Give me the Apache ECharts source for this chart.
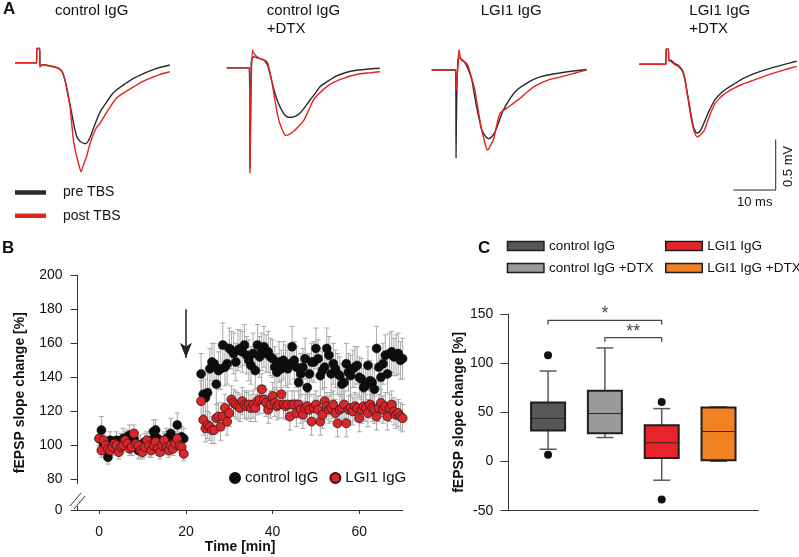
<!DOCTYPE html>
<html><head><meta charset="utf-8">
<script src="https://cdn.jsdelivr.net/npm/echarts@6/dist/echarts.min.js"></script>
<style>html,body{margin:0;padding:0;background:#fff}#c{width:799px;height:557px}</style>
</head><body><div id="c"></div><script>
const FONT = '"Liberation Sans", Arial, sans-serif';

// ---------- Panel A: example fEPSP traces, [time (ms), voltage (mV)] ----------
const trace1Pre = [[0,0],[5.1,0],[5.15,0.14],[5.85,0.14],[5.9,-0.04],[6.5,-0.02],[8,-0.03],[10,-0.05],[11,-0.08],[11.6,-0.14],[12.2,-0.24],[12.8,-0.37],[13.4,-0.5],[14,-0.63],[14.6,-0.73],[15.2,-0.77],[15.8,-0.79],[16.4,-0.8],[16.8,-0.8],[17.4,-0.77],[18.1,-0.7],[19,-0.6],[20.1,-0.49],[21.5,-0.4],[23,-0.31],[24,-0.27],[26,-0.21],[28,-0.155],[30,-0.115],[31.9,-0.08],[34,-0.05],[36.6,-0.023]];
const trace1Post = [[0,0],[5.1,0],[5.15,0.14],[5.85,0.14],[5.9,-0.04],[6.5,-0.02],[8,-0.03],[10,-0.05],[11,-0.08],[11.8,-0.17],[12.4,-0.3],[13,-0.43],[13.4,-0.6],[13.8,-0.76],[14.2,-0.86],[14.6,-0.93],[15.1,-1.01],[15.6,-1.08],[16.2,-1.01],[16.9,-0.93],[17.6,-0.82],[18.5,-0.71],[19.3,-0.64],[20.1,-0.6],[22,-0.47],[24,-0.35],[26,-0.29],[28,-0.24],[30,-0.19],[31.9,-0.155],[34,-0.12],[36.6,-0.09]];
const trace2Pre = [[0,0],[5.35,0],[5.5,-1.0],[5.8,0.05],[6.3,0.11],[7.1,0.1],[8.65,0.08],[9.3,0.05],[9.8,0.01],[10.4,-0.09],[11,-0.19],[11.6,-0.28],[12.2,-0.35],[13,-0.42],[13.8,-0.47],[14.6,-0.49],[15.4,-0.49],[16.3,-0.48],[17.3,-0.45],[18.5,-0.39],[19.7,-0.32],[21,-0.25],[22,-0.19],[24,-0.13],[26,-0.08],[28,-0.05],[29.9,-0.03],[33,-0.015],[36.2,-0.005]];
const trace2Post = [[0,0],[5.35,0],[5.5,-1.04],[5.75,-0.3],[6.05,0.175],[6.3,0.15],[7.1,0.11],[7.9,0.09],[9.5,0.06],[10.1,-0.02],[10.6,-0.12],[11.2,-0.27],[11.8,-0.42],[12.4,-0.53],[13,-0.6],[13.5,-0.65],[14,-0.67],[14.8,-0.66],[15.8,-0.63],[17,-0.58],[18.1,-0.53],[19.3,-0.43],[20.5,-0.32],[22,-0.25],[23.6,-0.19],[25.5,-0.14],[27.6,-0.105],[29.5,-0.08],[31.5,-0.06],[34,-0.05],[36.2,-0.04]];
const trace3Pre = [[0,0],[5.7,0],[5.75,-0.87],[5.9,-0.3],[6.2,0.1],[6.5,0.12],[7.2,0.1],[7.9,0.07],[8.7,0],[9.5,-0.1],[10,-0.22],[10.6,-0.36],[11.2,-0.48],[11.8,-0.59],[12.6,-0.65],[13.4,-0.68],[14.2,-0.66],[15,-0.61],[15.9,-0.51],[16.9,-0.4],[18.4,-0.29],[20.1,-0.2],[22.5,-0.13],[24.8,-0.08],[27.5,-0.05],[30.3,-0.03],[33.5,-0.01],[36.6,0.005]];
const trace3Post = [[0,0],[5.7,0],[5.8,-0.2],[6.2,0.05],[6.45,0.2],[6.7,0.14],[7,0.1],[7.8,0.08],[8.5,0.05],[9.4,-0.07],[10.2,-0.2],[10.8,-0.35],[11.4,-0.5],[11.9,-0.61],[12.4,-0.69],[12.8,-0.76],[13.1,-0.79],[13.5,-0.78],[14,-0.74],[14.6,-0.69],[15.3,-0.56],[16.1,-0.43],[16.9,-0.4],[17.7,-0.38],[19.3,-0.33],[20.9,-0.28],[22.8,-0.21],[24.8,-0.15],[27.5,-0.1],[30.3,-0.07],[33.5,-0.035],[36.6,0]];
const trace4Pre = [[0,0],[6.3,0],[6.32,0.15],[6.9,0.15],[6.95,0.04],[7.4,0.04],[8.3,0.01],[9.2,-0.01],[10.3,-0.07],[10.8,-0.15],[11.2,-0.25],[11.7,-0.37],[12.2,-0.49],[12.8,-0.62],[13.2,-0.66],[13.6,-0.68],[14.2,-0.67],[14.8,-0.63],[15.5,-0.56],[16.3,-0.48],[17.1,-0.41],[17.9,-0.35],[19.2,-0.29],[20.7,-0.24],[22.6,-0.19],[24.6,-0.14],[27.3,-0.09],[30.1,-0.05],[33.5,-0.01],[37.2,0.03]];
const trace4Post = [[0,0],[6.3,0],[6.32,0.15],[6.9,0.15],[6.95,0.04],[7.4,0.03],[8.3,0],[9.2,-0.02],[10.3,-0.08],[10.8,-0.16],[11.2,-0.26],[11.7,-0.39],[12.2,-0.52],[12.8,-0.64],[13.3,-0.7],[13.8,-0.72],[14.4,-0.7],[15.3,-0.66],[16,-0.58],[16.7,-0.5],[17.3,-0.44],[17.9,-0.39],[18.9,-0.34],[19.9,-0.3],[21,-0.27],[22.2,-0.24],[24.2,-0.2],[26.2,-0.17],[28.2,-0.14],[30.1,-0.11],[33.5,-0.065],[37.2,-0.02]];
const traceTitles = ['control IgG', 'control IgG\n+DTX', 'LGI1 IgG', 'LGI1 IgG\n+DTX'];
const scaleBar = [[22.25,-1.245],[32.25,-1.245],[32.25,-0.745]]; // 10 ms x 0.5 mV

// ---------- Panel B: fEPSP slope change [%] over time ----------
const baseStartMin = 0, postStartMin = 23.5, sampleStepMin = 0.5;
const ctrlBase = [104,109,101,98,93,103,100,101,103,100,102,104,102,105,106,99,104,101,97,100,98,102,101,98,103,108,109,104,101,99,102,104,100,107,103,102,112,102,105,104];
const ctrlBaseSem = [5,8,5,4,4,5,5,4,5,5,5,6,5,4,6,5,5,4,5,6,5,5,4,5,6,7,6,5,4,5,5,6,5,9,5,5,7,5,6,6];
const lgiBase = [104,97,103,100,98,97,99,101,100,96,99,100,103,101,98,99,107,101,100,97,96,99,103,100,97,100,102,98,96,100,103,99,97,100,98,101,104,100,99,95];
const lgiBaseSem = [4,4,5,4,4,4,5,4,5,4,4,4,5,4,4,5,5,4,4,4,4,4,5,4,4,4,5,4,4,4,5,4,4,5,4,4,4,4,5,4];
const ctrlPost = [142,130,128,131,145,149,148,136,144,145,159,146,148,157,156,154,149,156,157,155,159,153,150,147,154,144,159,152,155,158,154,155,152,151,146,143,149,145,150,147,145,148,158,150,146,137,142,146,151,134,142,149,149,157,151,141,144,146,157,153,142,148,145,142,141,136,137,148,143,141,145,146,147,140,139,134,135,147,138,137,133,157,146,140,148,153,142,154,155,152,153,154,150,151];
const ctrlPostSem = [12,12,11,11,12,11,12,12,11,12,13,11,12,12,11,12,11,12,11,12,12,11,12,11,12,11,12,12,11,12,11,12,11,11,12,11,12,11,11,12,11,12,12,11,12,11,12,11,12,11,12,11,12,12,11,12,11,12,12,11,11,12,11,12,11,12,11,12,11,12,11,12,11,12,12,11,12,11,12,11,12,13,12,11,12,12,11,12,12,11,12,12,11,12];
const lgiPost = [126,115,110,112,111,109,109,116,117,111,117,122,114,119,127,125,124,123,122,126,124,123,124,122,124,122,126,127,133,127,125,121,124,129,125,123,124,130,124,123,124,117,124,124,119,124,121,118,122,123,121,114,122,124,121,114,118,126,123,121,122,124,119,113,121,122,124,113,121,122,120,123,122,116,121,123,122,119,124,122,121,117,122,125,121,123,117,122,124,120,118,119,117,116];
const lgiPostSem = [12,9,8,8,8,8,8,8,8,8,8,8,8,8,8,8,8,8,8,8,8,8,8,8,8,8,8,8,9,8,8,8,8,8,8,8,8,8,8,8,8,8,8,8,8,8,8,8,8,8,8,8,8,8,8,8,8,8,8,8,8,8,8,8,8,8,8,8,8,8,8,8,8,8,8,8,8,8,8,8,8,8,8,8,8,8,8,8,8,8,8,8,8,8];
const timeTicks = [0, 20, 40, 60];
const slopeTicks = [0, 80, 100, 120, 140, 160, 180, 200];
const tbsTime = 20;

// ---------- Panel C: box plots, fEPSP slope change [%] ----------
const groups = ['control IgG', 'control IgG +DTX', 'LGI1 IgG', 'LGI1 IgG +DTX'];
// [lower whisker, Q1, median, Q3, upper whisker]
const boxStats = [[12.5,31.5,43.7,60,92],[24.4,28.8,48.8,72,115.5],[-19,3.7,19,36.9,53.8],[0.3,1.3,30.5,55,55.5]];
const outliers = [[1,108],[1,7],[3,60.6],[3,-38.6]];
// [from group, to group, level, label]
const brackets = [[1,3,143.6,'*'],[2,3,126,'**']];

// ---------- layout & style ----------
const boxColors = ['#575757','#9a9a9a','#e8232a','#f28123'];
const msPx = 4.23, mvPx = 101;
const traceLeft = [15, 226.7, 431.7, 639.3];
const traceBase = [62.7, 67.7, 70, 64.3];
const tMax = 37.5, vMin = -1.3, vMax = 0.25;

const withTime = (vals, start) => vals.map((v, i) => [start + i * sampleStepMin, v]);
const withErr = (vals, sems, start) => vals.map((v, i) => [start + i * sampleStepMin, v - sems[i], v + sems[i]]);

const grids = [], xAxes = [], yAxes = [], series = [];
const traces = [[trace1Pre,trace1Post],[trace2Pre,trace2Post],[trace3Pre,trace3Post],[trace4Pre,trace4Post]];
traces.forEach((tr, k) => {
  grids.push({left: traceLeft[k], top: traceBase[k] - vMax * mvPx, width: tMax * msPx, height: (vMax - vMin) * mvPx});
  xAxes.push({gridIndex: k, type: 'value', min: 0, max: tMax, show: false});
  yAxes.push({gridIndex: k, type: 'value', min: vMin, max: vMax, show: false});
  series.push({name: 'pre TBS', type: 'line', xAxisIndex: k, yAxisIndex: k, data: tr[0], showSymbol: false, smooth: 0.25,
    itemStyle: {color: '#2a2a2a'}, lineStyle: {color: '#2a2a2a', width: 1.4}, z: 2});
  series.push({name: 'post TBS', type: 'line', xAxisIndex: k, yAxisIndex: k, data: tr[1], showSymbol: false, smooth: 0.25,
    itemStyle: {color: '#e2231f'}, lineStyle: {color: '#e2231f', width: 1.4}, z: 3});
});
series.push({name: 'scale', type: 'line', xAxisIndex: 3, yAxisIndex: 3, data: scaleBar, showSymbol: false,
  lineStyle: {color: '#222', width: 1}, z: 4});

// Panel B grid (index 4)
grids.push({left: 77.6, top: 275.3, width: 325, height: 234.7});
const axisLineStyle = {color: '#333', width: 1};
xAxes.push({gridIndex: 4, type: 'value', min: -5, max: 70,
  name: 'Time [min]', nameLocation: 'middle', nameGap: 29,
  nameTextStyle: {fontFamily: FONT, fontSize: 14, fontWeight: 'bold', color: '#111'},
  axisLine: {show: true, onZero: false, lineStyle: axisLineStyle},
  axisTick: {show: true, length: 4, customValues: timeTicks, lineStyle: axisLineStyle},
  axisLabel: {customValues: timeTicks, fontFamily: FONT, fontSize: 14, color: '#111', margin: 15},
  splitLine: {show: false}});
yAxes.push({gridIndex: 4, type: 'value', min: 0, max: 200,
  breaks: [{start: 2, end: 78, gap: 14}],
  breakArea: {show: false},
  name: 'fEPSP slope change [%]', nameLocation: 'middle', nameGap: 50,
  nameTextStyle: {fontFamily: FONT, fontSize: 14, fontWeight: 'bold', color: '#111'},
  axisLine: {show: true, onZero: false, lineStyle: axisLineStyle},
  axisTick: {show: true, length: 7, customValues: slopeTicks, lineStyle: axisLineStyle},
  axisLabel: {customValues: slopeTicks, fontFamily: FONT, fontSize: 14, color: '#111', margin: 15},
  splitLine: {show: false}});

function errRender(params, api) {
  const x = api.value(0);
  const p1 = api.coord([x, api.value(2)]), p2 = api.coord([x, api.value(1)]);
  const w = 2.5, st = {stroke: '#a8a8a8', lineWidth: 1};
  return {type: 'group', children: [
    {type: 'line', shape: {x1: p1[0], y1: p1[1], x2: p2[0], y2: p2[1]}, style: st},
    {type: 'line', shape: {x1: p1[0] - w, y1: p1[1], x2: p1[0] + w, y2: p1[1]}, style: st},
    {type: 'line', shape: {x1: p2[0] - w, y1: p2[1], x2: p2[0] + w, y2: p2[1]}, style: st}
  ]};
}
const ctrlErr = withErr(ctrlBase, ctrlBaseSem, baseStartMin).concat(withErr(ctrlPost, ctrlPostSem, postStartMin));
const lgiErr = withErr(lgiBase, lgiBaseSem, baseStartMin).concat(withErr(lgiPost, lgiPostSem, postStartMin));
series.push({name: 'control SEM', type: 'custom', xAxisIndex: 4, yAxisIndex: 4, renderItem: errRender,
  encode: {x: 0, y: [1, 2]}, data: ctrlErr, z: 1, silent: true});
series.push({name: 'LGI1 SEM', type: 'custom', xAxisIndex: 4, yAxisIndex: 4, renderItem: errRender,
  encode: {x: 0, y: [1, 2]}, data: lgiErr, z: 1, silent: true});
series.push({name: 'control IgG', type: 'scatter', xAxisIndex: 4, yAxisIndex: 4, symbolSize: 9,
  data: withTime(ctrlBase, baseStartMin).concat(withTime(ctrlPost, postStartMin)),
  itemStyle: {color: '#0d0d0d', borderColor: '#0d0d0d', borderWidth: 0.5, opacity: 1}, z: 3,
  markLine: {silent: true, symbol: ['none', 'arrow'], symbolSize: [9, 15], label: {show: false},
    lineStyle: {color: '#222', width: 1.5, type: 'solid'},
    data: [[{coord: [tbsTime, 180]}, {coord: [tbsTime, 151.5]}]]}});
series.push({name: 'LGI1 IgG', type: 'scatter', xAxisIndex: 4, yAxisIndex: 4, symbolSize: 9,
  data: withTime(lgiBase, baseStartMin).concat(withTime(lgiPost, postStartMin)),
  itemStyle: {color: '#d9262b', borderColor: '#3a1515', borderWidth: 0.8, opacity: 1}, z: 4});

// Panel C grid (index 5)
grids.push({left: 508.3, top: 314, width: 250, height: 196.7});
xAxes.push({gridIndex: 5, type: 'value', min: 0.3, max: 4.7,
  axisLine: {show: true, onZero: false, lineStyle: axisLineStyle}, axisTick: {show: false}, axisLabel: {show: false}, splitLine: {show: false}});
yAxes.push({gridIndex: 5, type: 'value', min: -50, max: 150, interval: 50,
  name: 'fEPSP slope change [%]', nameLocation: 'middle', nameGap: 40,
  nameTextStyle: {fontFamily: FONT, fontSize: 14, fontWeight: 'bold', color: '#111'},
  axisLine: {show: true, onZero: false, lineStyle: axisLineStyle},
  axisTick: {show: true, length: 8, lineStyle: axisLineStyle},
  axisLabel: {fontFamily: FONT, fontSize: 14, color: '#111', margin: 15},
  splitLine: {show: false}});

function boxRender(params, api) {
  const x = api.value(0);
  const p = [1, 2, 3, 4, 5].map(i => api.coord([x, api.value(i)]));
  const cx = p[0][0], hw = 17, cw = 8.5;
  const fill = api.visual('color');
  const ws = {stroke: '#5a5a5a', lineWidth: 1.5};
  return {type: 'group', children: [
    {type: 'line', shape: {x1: cx, y1: p[0][1], x2: cx, y2: p[1][1]}, style: ws},
    {type: 'line', shape: {x1: cx, y1: p[3][1], x2: cx, y2: p[4][1]}, style: ws},
    {type: 'line', shape: {x1: cx - cw, y1: p[0][1], x2: cx + cw, y2: p[0][1]}, style: ws},
    {type: 'line', shape: {x1: cx - cw, y1: p[4][1], x2: cx + cw, y2: p[4][1]}, style: ws},
    {type: 'rect', shape: {x: cx - hw, y: p[3][1], width: 2 * hw, height: p[1][1] - p[3][1]},
      style: {fill: fill, stroke: '#1e1e1e', lineWidth: 2}},
    {type: 'line', shape: {x1: cx - hw, y1: p[2][1], x2: cx + hw, y2: p[2][1]}, style: {stroke: '#2a2a2a', lineWidth: 1}}
  ]};
}
groups.forEach((g, i) => {
  series.push({name: 'C:' + g, type: 'custom', xAxisIndex: 5, yAxisIndex: 5, renderItem: boxRender,
    encode: {x: 0, y: [1, 2, 3, 4, 5]}, data: [[i + 1].concat(boxStats[i])],
    itemStyle: {color: boxColors[i], borderColor: '#1e1e1e', borderWidth: 1.5}, z: 2});
});
series.push({name: 'outliers', type: 'scatter', xAxisIndex: 5, yAxisIndex: 5, symbolSize: 8,
  data: outliers, itemStyle: {color: '#111', opacity: 1}, z: 3});
brackets.forEach((b, i) => {
  const tick = 4.2;
  series.push({name: 'bracket' + i, type: 'line', xAxisIndex: 5, yAxisIndex: 5, showSymbol: false,
    data: [[b[0], b[2] - tick], [b[0], b[2]], [b[1], b[2]], [b[1], b[2] - tick]],
    lineStyle: {color: '#444', width: 1.3}, z: 3});
  series.push({name: 'star' + i, type: 'scatter', xAxisIndex: 5, yAxisIndex: 5, symbolSize: 0, clip: false,
    data: [[(b[0] + b[1]) / 2, b[2]]],
    label: {show: true, position: 'top', distance: -3, formatter: b[3], fontFamily: FONT, fontSize: 18, color: '#111'}, z: 3});
});

const legendText = {fontFamily: FONT, color: '#111'};
const option = {
  animation: false,
  backgroundColor: '#fff',
  grid: grids, xAxis: xAxes, yAxis: yAxes, series: series,
  title: [
    {text: 'A', left: 3, top: 1, padding: 0, textStyle: {fontFamily: FONT, fontSize: 17, fontWeight: 'bold', color: '#111'}},
    {text: 'B', left: 2, top: 240, padding: 0, textStyle: {fontFamily: FONT, fontSize: 17, fontWeight: 'bold', color: '#111'}},
    {text: 'C', left: 478, top: 240, padding: 0, textStyle: {fontFamily: FONT, fontSize: 17, fontWeight: 'bold', color: '#111'}},
    {text: traceTitles[0], left: 55, top: 2, padding: 0, textStyle: {fontFamily: FONT, fontSize: 15, fontWeight: 'normal', color: '#111', lineHeight: 18}},
    {text: traceTitles[1], left: 266.7, top: 2, padding: 0, textStyle: {fontFamily: FONT, fontSize: 15, fontWeight: 'normal', color: '#111', lineHeight: 18}},
    {text: traceTitles[2], left: 480.7, top: 2, padding: 0, textStyle: {fontFamily: FONT, fontSize: 15, fontWeight: 'normal', color: '#111', lineHeight: 18}},
    {text: traceTitles[3], left: 689.3, top: 2, padding: 0, textStyle: {fontFamily: FONT, fontSize: 15, fontWeight: 'normal', color: '#111', lineHeight: 18}}
  ],
  legend: [
    {data: ['pre TBS', 'post TBS'], orient: 'vertical', left: 15, top: 185.5, padding: 0, itemGap: 9.3,
      icon: 'rect', itemWidth: 31, itemHeight: 4.5, selectedMode: false,
      textStyle: Object.assign({fontSize: 14, padding: [0, 0, 0, 12]}, legendText)},
    {data: ['control IgG', 'LGI1 IgG'], orient: 'horizontal', left: 229, top: 470.5, padding: 0, itemGap: 11,
      icon: 'circle', itemWidth: 10, itemHeight: 10, selectedMode: false,
      textStyle: Object.assign({fontSize: 15}, legendText)},
    {data: ['C:' + groups[0], 'C:' + groups[1]], orient: 'vertical', left: 506.7, top: 239, padding: 0, itemGap: 8,
      icon: 'rect', itemWidth: 36.5, itemHeight: 9, selectedMode: false,
      itemStyle: {borderColor: '#1e1e1e', borderWidth: 1.5},
      formatter: n => n.slice(2), textStyle: Object.assign({fontSize: 13.5}, legendText)},
    {data: ['C:' + groups[2], 'C:' + groups[3]], orient: 'vertical', left: 665, top: 239, padding: 0, itemGap: 8,
      icon: 'rect', itemWidth: 36.5, itemHeight: 9, selectedMode: false,
      itemStyle: {borderColor: '#1e1e1e', borderWidth: 1.5},
      formatter: n => n.slice(2), textStyle: Object.assign({fontSize: 13.5}, legendText)}
  ],
  graphic: [
    {type: 'text', left: 737, top: 196, style: {text: '10 ms', fontFamily: FONT, fontSize: 13, fill: '#111'}},
    {type: 'text', x: 782, y: 187, rotation: Math.PI / 2, style: {text: '0.5 mV', fontFamily: FONT, fontSize: 13, fill: '#111'}},
    {type: 'line', shape: {x1: 70, y1: 506, x2: 81, y2: 493}, style: {stroke: '#333', lineWidth: 1}},
    {type: 'line', shape: {x1: 74, y1: 509, x2: 85, y2: 496}, style: {stroke: '#333', lineWidth: 1}}
  ]
};
const chart = echarts.init(document.getElementById('c'), null, {renderer: 'canvas'});
chart.setOption(option);
</script></body></html>
